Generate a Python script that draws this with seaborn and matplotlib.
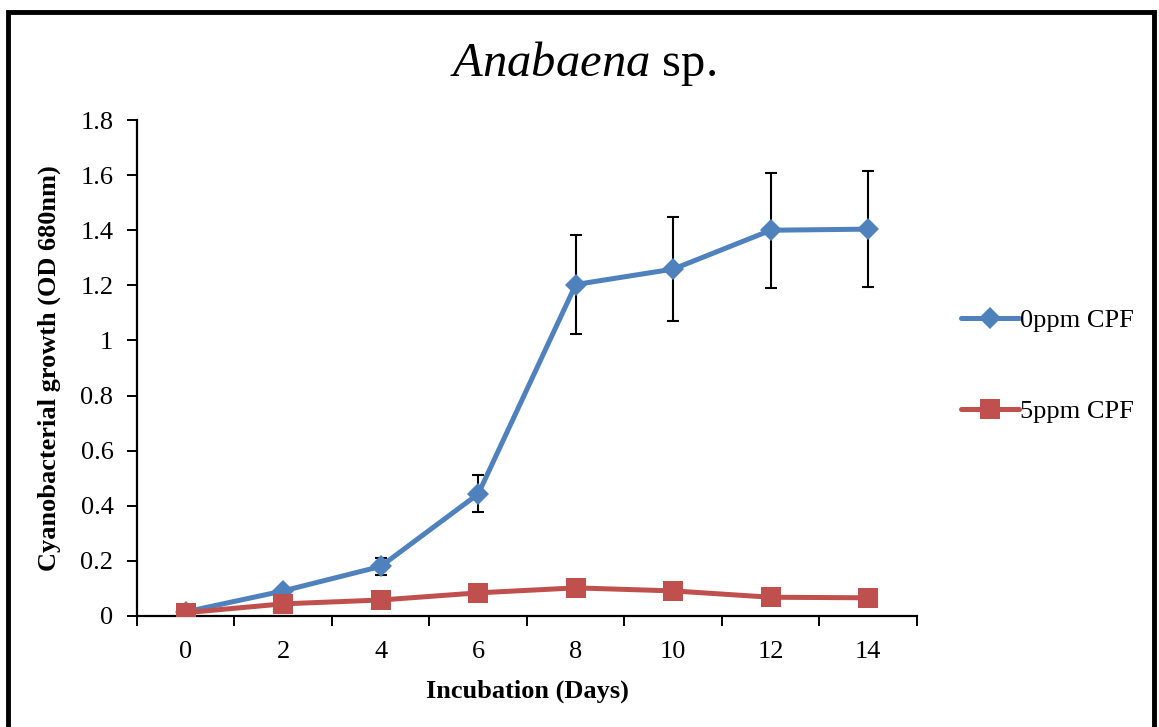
import numpy as np
import pandas as pd
import matplotlib
matplotlib.use("Agg")
import matplotlib.pyplot as plt
import seaborn as sns
from matplotlib.patches import Rectangle

days = ["0", "2", "4", "6", "8", "10", "12", "14"]
ctrl_vals = [0.015, 0.091, 0.18, 0.443, 1.203, 1.259, 1.400, 1.404]
ctrl_err = [0.0, 0.0, 0.03, 0.067, 0.18, 0.189, 0.209, 0.21]
cpf_vals = [0.012, 0.044, 0.058, 0.084, 0.102, 0.091, 0.068, 0.066]
series_names = ["0ppm CPF", "5ppm CPF"]
yticks = [0, 0.2, 0.4, 0.6, 0.8, 1.0, 1.2, 1.4, 1.6, 1.8]
ytick_labels = ["0", "0.2", "0.4", "0.6", "0.8", "1", "1.2", "1.4", "1.6", "1.8"]

sns.set_theme(style="white")
plt.rcParams["font.family"] = ["Liberation Serif", "DejaVu Serif"]
plt.rcParams["mathtext.fontset"] = "custom"
plt.rcParams["mathtext.it"] = "Liberation Serif:italic"
plt.rcParams["mathtext.rm"] = "Liberation Serif"
for k in ["text.color", "axes.labelcolor", "xtick.color", "ytick.color"]:
    plt.rcParams[k] = "black"

df = pd.DataFrame({
    "Day": days * 2,
    "OD": ctrl_vals + cpf_vals,
    "Series": [series_names[0]] * len(days) + [series_names[1]] * len(days),
})

fig = plt.figure(figsize=(11.59, 7.27), dpi=100)
ax = fig.add_axes([0.1182, 0.1527, 0.6730, 0.6822])

palette = {series_names[0]: "#4F81BD", series_names[1]: "#C0504D"}
sns.lineplot(data=df, x="Day", y="OD", hue="Series", style="Series",
             markers={series_names[0]: "D", series_names[1]: "s"},
             dashes=False, palette=palette, linewidth=3.6,
             markersize=11.5, markeredgewidth=0, ax=ax, sort=False, legend=True,
             zorder=3)
for line in ax.lines:
    if line.get_marker() == "s":
        line.set_markersize(14)

pos = np.arange(len(days))
err = np.array(ctrl_err)
mask = err > 0
ax.errorbar(pos[mask], np.array(ctrl_vals)[mask], yerr=err[mask], fmt="none",
            ecolor="black", elinewidth=1.5, capsize=4.5, capthick=1.5, zorder=2)

ax.set_xlim(-0.5, len(days) - 0.5)
ax.set_ylim(0, 1.8)
ax.set_yticks(yticks)
ax.set_yticklabels(ytick_labels)
ax.set_xticks(pos)
ax.set_xticklabels(days)
ax.set_xticks(np.arange(-0.5, len(days)), minor=True)
ax.tick_params(axis="x", which="major", length=0, pad=18, labelsize=19)
ax.tick_params(axis="x", which="minor", length=7, width=1.4, direction="out", color="black", bottom=True)
ax.tick_params(axis="y", which="major", length=7, width=1.4, direction="out", color="black", left=True, labelsize=19, pad=10)

for s in ["top", "right"]:
    ax.spines[s].set_visible(False)
for s in ["left", "bottom"]:
    ax.spines[s].set_color("black")
    ax.spines[s].set_linewidth(1.6)

ax.set_xlabel("Incubation (Days)", fontsize=19, fontweight="bold", labelpad=12)
ax.set_ylabel("Cyanobacterial growth (OD 680nm)", fontsize=19, fontweight="bold", labelpad=14)

fig.text(0.503, 0.913, r"$\mathit{Anabaena}$ sp.", fontsize=35, ha="center", va="center")

handles, labels = ax.get_legend_handles_labels()
for h in handles:
    if h.get_marker() == "s":
        h.set_markersize(14)
ax.get_legend().remove()
fig.legend(handles, labels, loc="center left", bbox_to_anchor=(0.8175, 0.4966),
           frameon=False, fontsize=19, labelspacing=2.55, handlelength=2.2,
           handletextpad=0.05, borderpad=0)

fig.patches.append(Rectangle((0.007, -0.05), 0.989, 1.0335, transform=fig.transFigure,
                             fill=False, edgecolor="black", linewidth=3.5))

fig.savefig("out.png", dpi=100)
